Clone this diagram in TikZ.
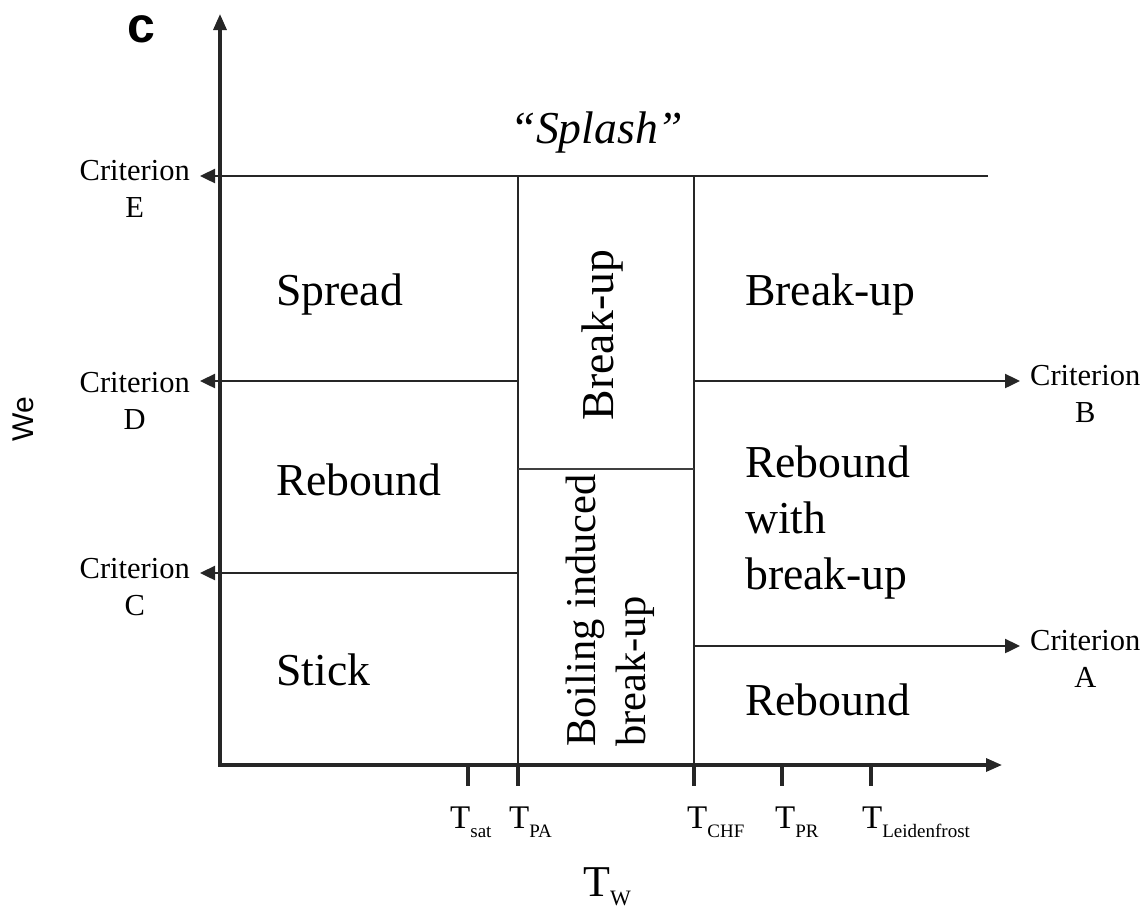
\documentclass[tikz,border=0pt]{standalone}
\usepackage{fontspec}
\setmainfont{Liberation Serif}
\setsansfont{Liberation Sans}
\usetikzlibrary{arrows.meta}

% T with a lowered subscript, for the tick labels
\newcommand{\Tsub}[1]{T\raisebox{-0.28em}{\fontsize{19}{19}\selectfont #1}}

\begin{document}
\begin{tikzpicture}[x=1pt,y=-1pt,
    axis/.style={line width=3.2pt, draw=black!85},
    wall/.style={line width=2.4pt, draw=black!85},
    thinwall/.style={line width=1.6pt, draw=black!75},
    tip/.style={-{Triangle[length=15pt,width=14pt]}},
    big/.style={font=\fontsize{45.7}{56}\selectfont, inner sep=0pt},
    crit/.style={font=\fontsize{30.5}{36}\selectfont, inner xsep=10pt, inner ysep=0pt},
    tlab/.style={font=\fontsize{33}{33}\selectfont, inner sep=0pt}]

    \useasboundingbox (0,0) rectangle (1148,911);

    % Axes
    \coordinate (O) at (220,765);
    \coordinate (ytip) at (220,14);
    \coordinate (xtip) at (1002,765);
    \draw[axis, {Triangle[length=16pt,width=13pt]}-{Triangle[length=16pt,width=13pt]}] (ytip) -- (O) -- (xtip);
    \node[anchor=base, inner sep=0pt, font=\sffamily\bfseries\fontsize{50}{50}\selectfont] (panel) at (141,42) {c};
    \node[rotate=90, anchor=base, inner sep=0pt, font=\sffamily\fontsize{30}{30}\selectfont] (we) at (33,419) {We};
    \node[anchor=base west, inner sep=0pt, font=\fontsize{44}{44}\selectfont] (tw) at (583,896) {T\raisebox{-0.22em}{\fontsize{22}{22}\selectfont W}};

    % Grid points
    \coordinate (paT) at (518,176);
    \coordinate (paB) at (518,765);
    \coordinate (chfT) at (694,176);
    \coordinate (chfB) at (694,765);
    \coordinate (topR) at (988,176);
    \coordinate (paD) at (518,381);
    \coordinate (paC) at (518,573);
    \coordinate (paM) at (518,469);
    \coordinate (chfM) at (694,469);
    \coordinate (chfU) at (694,381);
    \coordinate (chfA) at (694,646);

    % Criteria
    \node[crit, anchor=base east] (critE) at (200,180) {Criterion};
    \node[crit, anchor=base] (critEl) at ([yshift=-37pt]critE.base) {E};
    \node[crit, anchor=base east] (critD) at (200,392) {Criterion};
    \node[crit, anchor=base] (critDl) at ([yshift=-37pt]critD.base) {D};
    \node[crit, anchor=base east] (critC) at (200,578) {Criterion};
    \node[crit, anchor=base] (critCl) at ([yshift=-37pt]critC.base) {C};
    \node[crit, anchor=base west] (critB) at (1020,385) {Criterion};
    \node[crit, anchor=base] (critBl) at ([yshift=-37pt]critB.base) {B};
    \node[crit, anchor=base west] (critA) at (1020,650) {Criterion};
    \node[crit, anchor=base] (critAl) at ([yshift=-37pt]critA.base) {A};

    \draw[wall, tip] (topR) -- (critE.east |- topR);
    \draw[wall, tip] (paD) -- (critD.east |- paD);
    \draw[wall, tip] (paC) -- (critC.east |- paC);
    \draw[wall, tip] (chfU) -- (critB.west |- chfU);
    \draw[wall, tip] (chfA) -- (critA.west |- chfA);

    % Walls
    \draw[wall] (paT) -- (paB);
    \draw[wall] (chfT) -- (chfB);
    \draw[thinwall] (paM) -- (chfM);

    % Ticks
    \foreach \x/\lx/\sub in {468/450/sat, 518/509/PA, 694/687/CHF, 782/775/PR, 871/862/Leidenfrost} {
        \draw[axis] (\x,765) -- (\x,786);
        \node[tlab, anchor=base west] (t-\sub) at (\lx,828) {\Tsub{\sub}};
    }

    % Regimes
    \node[big, anchor=base] (splash) at (597,143) {\itshape “Splash”};
    \node[big, anchor=base west] (spread) at (276,305) {Spread};
    \node[big, anchor=base west] (reboundL) at (276,495) {Rebound};
    \node[big, anchor=base west] (stick) at (276,685) {Stick};
    \node[big, rotate=90] (breakM) at (603,335) {Break-up};
    \node[big, rotate=90, anchor=west, align=left, font=\fontsize{42.5}{50}\selectfont] (boil) at (610,747) {Boiling induced\\break-up};
    \node[big, anchor=base west] (breakR) at (745,305) {Break-up};
    \node[big, anchor=north west, align=left] (rebwith) at (745,446) {Rebound\\with\\break-up};
    \node[big, anchor=base west] (reboundR) at (745,715) {Rebound};
\end{tikzpicture}
\end{document}
